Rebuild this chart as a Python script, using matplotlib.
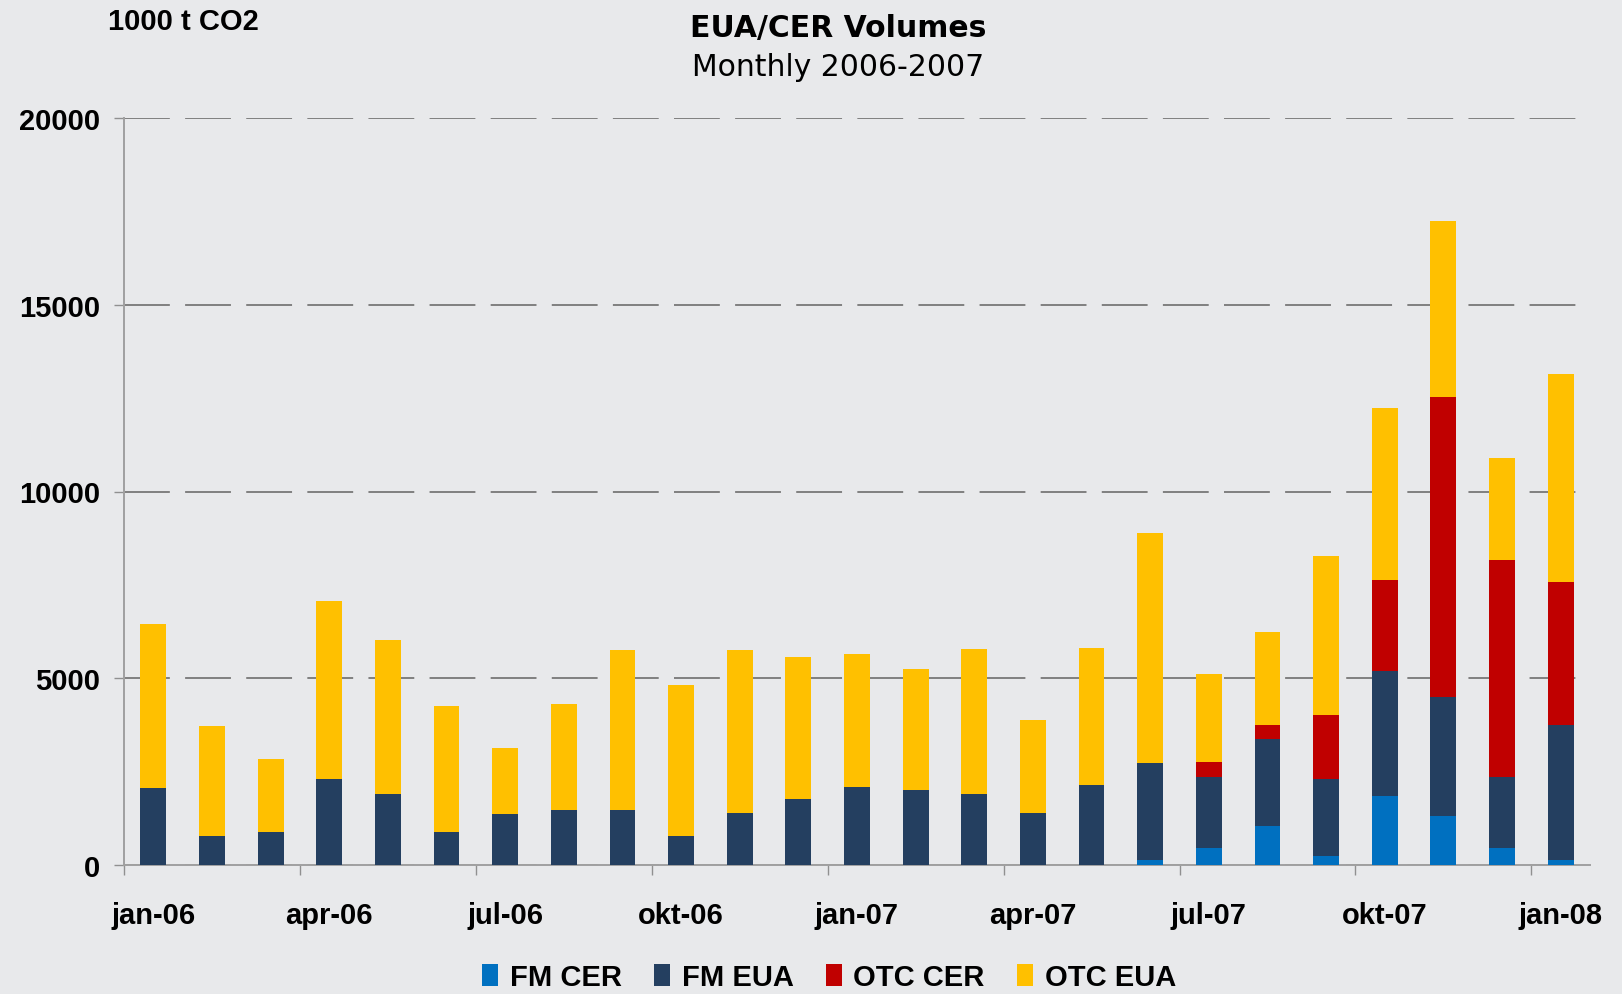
import matplotlib
matplotlib.use('Agg')
import matplotlib.pyplot as plt
import numpy as np

# =============================================================================
# data (1000 t CO2), stacked components per month
# =============================================================================
months = ['jan-06','feb-06','mar-06','apr-06','mai-06','jun-06','jul-06','aug-06',
          'sep-06','okt-06','nov-06','des-06','jan-07','feb-07','mar-07','apr-07',
          'mai-07','jun-07','jul-07','aug-07','sep-07','okt-07','nov-07','des-07','jan-08']
fm_cer  = [0,0,0,0,0,0,0,0,0,0,0,0,0,0,0,0,0,135,460,1050,240,1860,1320,460,135]
fm_eua  = [2070,780,890,2290,1910,890,1370,1480,1480,780,1390,1770,2080,2020,1910,
           1390,2130,2585,1890,2330,2050,3340,3180,1890,3605]
otc_cer = [0,0,0,0,0,0,0,0,0,0,0,0,0,0,0,0,0,0,420,360,1720,2430,8040,5820,3840]
otc_eua = [4370,2930,1960,4770,4120,3360,1750,2830,4280,4040,4370,3800,3570,3240,
           3880,2490,3690,6170,2350,2510,4260,4610,4700,2740,5570]
yticks = [0,5000,10000,15000,20000]

series = [('FM CER', fm_cer, '#0070C0'),
          ('FM EUA', fm_eua, '#243F60'),
          ('OTC CER', otc_cer, '#C00000'),
          ('OTC EUA', otc_eua, '#FFC000')]

# =============================================================================
# figure
# =============================================================================
plt.rcParams['lines.scale_dashes'] = False
bg = '#E8E9EB'
fig = plt.figure(figsize=(16.22, 9.95), dpi=100, facecolor=bg)
ax = fig.add_axes([124/1622, 129/995, 1466/1622, 747/995], facecolor=bg)

x = np.arange(len(months))
bottom = np.zeros(len(months))
for name, vals, col in series:
    ax.bar(x, vals, 0.44, bottom=bottom, color=col, label=name, zorder=3)
    bottom += np.array(vals)

ax.set_xlim(-0.5, len(months) - 0.5)
ax.set_ylim(0, 20000)

# y axis
ax.set_yticks(yticks)
ax.set_yticklabels([str(v) for v in yticks], fontsize=21, fontweight='bold',
                   family='Liberation Sans')
ax.tick_params(axis='y', length=7, width=1, color='#909090', pad=10)
ax.yaxis.grid(True, color='#808080', linewidth=1.4, linestyle=(0, (33, 11)), zorder=0)

# x axis: ticks at boundaries every quarter, labels at bar centres
ax.set_xticks(np.arange(-0.5, len(months), 3))
ax.set_xticklabels([])
ax.tick_params(axis='x', which='major', length=7, width=1, color='#909090')
ax.set_xticks(x[::3], minor=True)
ax.set_xticklabels(months[::3], minor=True, fontsize=21, fontweight='bold',
                   family='Liberation Sans')
ax.tick_params(axis='x', which='minor', length=0, pad=26)

for s in ['top', 'right']:
    ax.spines[s].set_visible(False)
for s in ['left', 'bottom']:
    ax.spines[s].set_color('#A0A0A0')
    ax.spines[s].set_linewidth(1.4)

# texts
fig.text(108/1622, 1 - 22/995, '1000 t CO2', fontsize=21, fontweight='bold',
         family='Liberation Sans', ha='left', va='center')
fig.text(838/1622, 1 - 28/995, 'EUA/CER Volumes', fontsize=21.5, fontweight='bold',
         family='DejaVu Sans', ha='center', va='center')
fig.text(838/1622, 1 - 67/995, 'Monthly 2006-2007', fontsize=21.5,
         family='DejaVu Sans', ha='center', va='center')

# legend
leg = fig.legend(loc='center', bbox_to_anchor=(829/1622, 17/995), ncol=4,
                 frameon=False, handlelength=0.55, handleheight=0.8,
                 handletextpad=0.4, columnspacing=1.1,
                 prop={'family': 'Liberation Sans', 'weight': 'bold', 'size': 21})

plt.savefig('out.png', dpi=100, facecolor=bg)
